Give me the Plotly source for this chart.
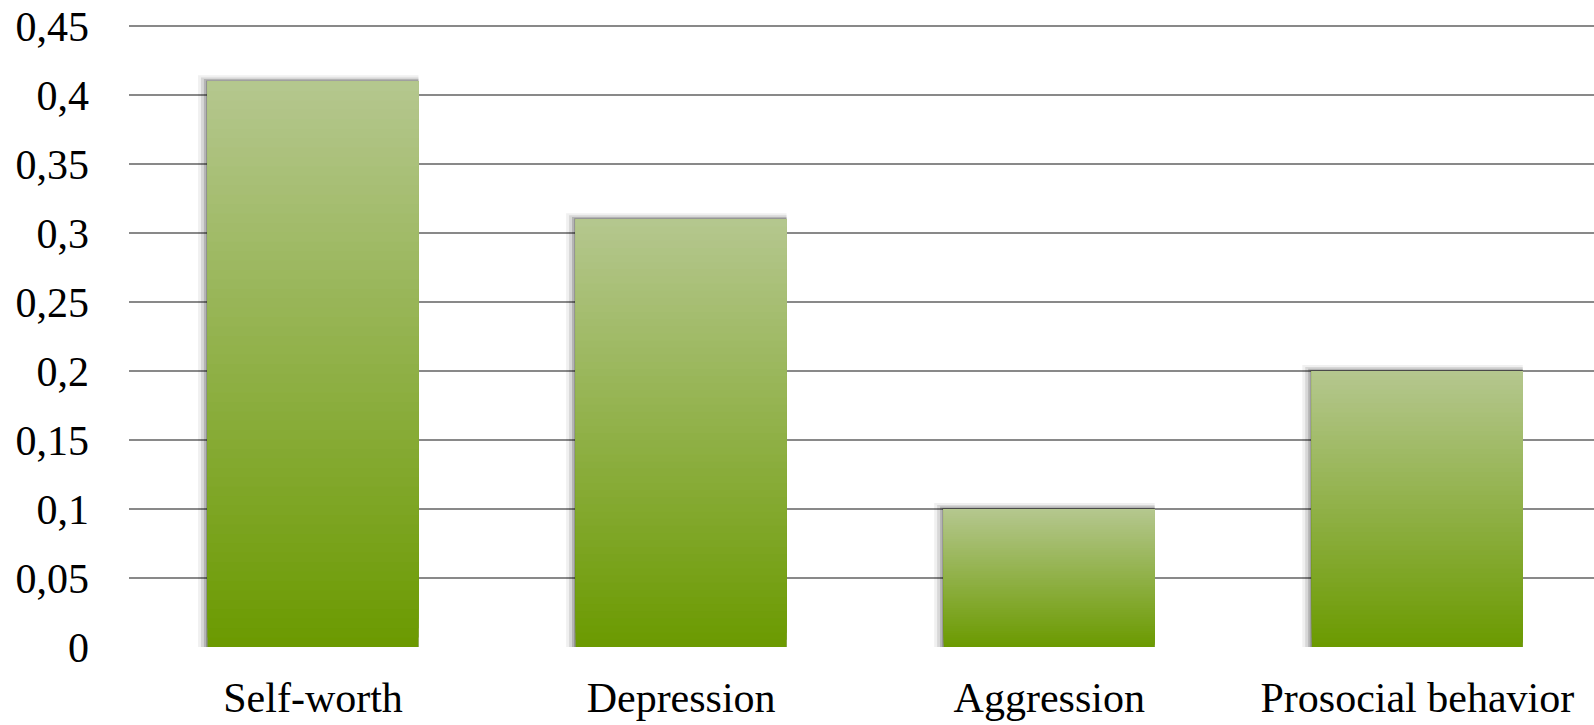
import plotly.graph_objects as go

categories = ["Self-worth", "Depression", "Aggression", "Prosocial behavior"]
values = [0.41, 0.31, 0.10, 0.20]
tick_values = [0, 0.05, 0.1, 0.15, 0.2, 0.25, 0.3, 0.35, 0.4, 0.45]
tick_labels = ["0", "0,05", "0,1", "0,15", "0,2", "0,25", "0,3", "0,35", "0,4", "0,45"]

TOP = (181, 199, 143)
BOTTOM = (107, 154, 0)
N_SEG = 60
BAR_W = 0.573
FONT = "Liberation Serif"

fig = go.Figure()

# soft shadow layers (left + top)
shadow_layers = [(0.026, 0.0045, 0.06), (0.018, 0.003, 0.10), (0.010, 0.0018, 0.16), (0.004, 0.0008, 0.22)]
for dx, dy, alpha in shadow_layers:
    fig.add_trace(go.Bar(
        x=categories, y=[v + dy for v in values], base=0,
        width=BAR_W + dx, offset=-BAR_W / 2 - dx,
        marker=dict(color=f"rgba(0,0,0,{alpha})", line=dict(width=0)),
        hoverinfo="skip", showlegend=False,
    ))

# gradient bars: each segment spans from its base to the bar top, drawn bottom-up
for i in range(N_SEG):
    t = (i + 0.5) / N_SEG  # 0 bottom -> 1 top
    c = tuple(round(BOTTOM[k] + (TOP[k] - BOTTOM[k]) * t) for k in range(3))
    fig.add_trace(go.Bar(
        x=categories,
        y=[v * (N_SEG - i) / N_SEG for v in values],
        base=[v * i / N_SEG for v in values],
        width=BAR_W, offset=-BAR_W / 2,
        marker=dict(color=f"rgb{c}", line=dict(width=0)),
        hoverinfo="skip", showlegend=False,
    ))

fig.update_layout(
    width=1594, height=725,
    margin=dict(l=129, r=0, t=25, b=78),
    paper_bgcolor="white", plot_bgcolor="white",
    barmode="overlay",
    separators=", ",
    font=dict(family=FONT, size=42, color="black"),
    showlegend=False,
)
fig.update_xaxes(
    type="category", range=[-0.5, 3.48],
    showgrid=False, zeroline=False, showline=False,
    ticks="", automargin=False, ticklabelstandoff=22,
    tickfont=dict(family=FONT, size=42, color="black"),
)
fig.update_yaxes(
    range=[0, 0.451], tickvals=tick_values, ticktext=tick_labels,
    showgrid=True, gridcolor="#898989", gridwidth=2,
    zeroline=False, showline=False, ticks="",
    automargin=False, ticklabelstandoff=39,
    tickfont=dict(family=FONT, size=42, color="black"),
)

fig.write_html(
    "out.html",
    config={"displayModeBar": False},
    post_script="document.body.style.margin='0';",
)
